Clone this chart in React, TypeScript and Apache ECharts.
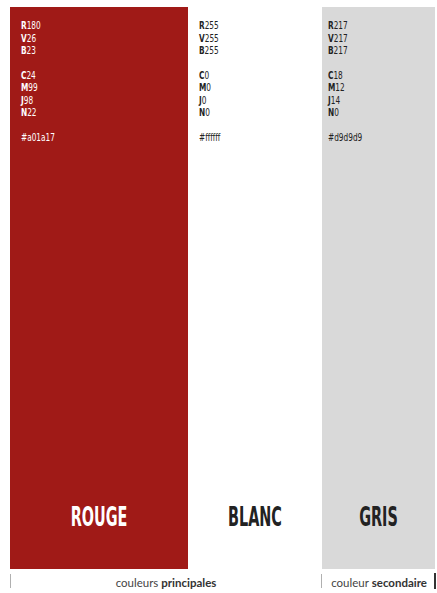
import React, { useEffect, useRef } from "react";
import * as echarts from "echarts";

const colourNames = ["ROUGE", "BLANC", "GRIS"];
const colourHex = ["#a01a17", "#ffffff", "#d9d9d9"];
const columnWidths = [178, 134, 113];
const rgbValues = [
  ["R180", "V26", "B23"],
  ["R255", "V255", "B255"],
  ["R217", "V217", "B217"],
];
const cmjnValues = [
  ["C24", "M99", "J98", "N22"],
  ["C0", "M0", "J0", "N0"],
  ["C18", "M12", "J14", "N0"],
];
const hexLabels = ["#a01a17", "#ffffff", "#d9d9d9"];
const textColours = ["#ffffff", "#222222", "#222222"];
const groupLabels = [
  { normal: "couleurs ", bold: "principales" },
  { normal: "couleur ", bold: "secondaire" },
];

const NARROW = "'Liberation Sans Narrow', 'DejaVu Sans Condensed', 'Roboto Condensed', sans-serif";

function specText(i: number) {
  const fmt = (s: string) => `{b|${s.charAt(0)}}{n|${s.slice(1)}}`;
  const lines = [
    ...rgbValues[i].map(fmt),
    "{n| }",
    ...cmjnValues[i].map(fmt),
    "{n| }",
    `{n|${hexLabels[i]}}`,
  ];
  return lines.join("\n");
}

export default function App() {
  const ref = useRef<HTMLDivElement>(null);
  useEffect(() => {
    if (!ref.current) return;
    const chart = echarts.init(ref.current, null, { renderer: "svg" });
    const gridLeft = 10;
    const gridTop = 7;
    const total = columnWidths.reduce((a, b) => a + b, 0);
    const specX = [21, 199, 328];
    const nameCentres: number[] = [];
    let acc = gridLeft;
    columnWidths.forEach((w) => {
      nameCentres.push(acc + w / 2);
      acc += w;
    });

    const graphics: any[] = [];
    colourNames.forEach((name, i) => {
      graphics.push({
        type: "text",
        x: specX[i],
        y: 19,
        z: 10,
        scaleX: 0.78,
        scaleY: 1.05,
        style: {
          text: specText(i),
          fill: textColours[i],
          rich: {
            b: { fontFamily: NARROW, fontSize: 10.5, fontWeight: "bold", lineHeight: 11.8, fill: textColours[i] },
            n: { fontFamily: NARROW, fontSize: 10.5, fontWeight: "normal", lineHeight: 11.8, fill: textColours[i] },
          },
        },
      });
      graphics.push({
        type: "text",
        x: nameCentres[i],
        y: 517,
        z: 10,
        scaleX: 0.64,
        scaleY: 1.05,
        style: {
          text: name,
          fill: textColours[i],
          font: `bold 25px ${NARROW}`,
          textAlign: "center",
          textVerticalAlign: "middle",
        },
      });
    });
    const captionRich = {
      n: { fontFamily: "Lato", fontSize: 11.5, fill: "#444" },
      b: { fontFamily: "Lato", fontSize: 11.5, fontWeight: "bold", fill: "#333" },
    };
    graphics.push({
      type: "text",
      x: 166,
      y: 582,
      style: {
        text: `{n|${groupLabels[0].normal}}{b|${groupLabels[0].bold}}`,
        textAlign: "center",
        textVerticalAlign: "middle",
        rich: captionRich,
      },
    });
    graphics.push({
      type: "text",
      x: 379,
      y: 582,
      style: {
        text: `{n|${groupLabels[1].normal}}{b|${groupLabels[1].bold}}`,
        textAlign: "center",
        textVerticalAlign: "middle",
        rich: captionRich,
      },
    });
    graphics.push({ type: "line", shape: { x1: 10.5, y1: 574, x2: 10.5, y2: 588 }, style: { stroke: "#b0b0b0", lineWidth: 1 } });
    graphics.push({ type: "line", shape: { x1: 321.5, y1: 574, x2: 321.5, y2: 588 }, style: { stroke: "#b0b0b0", lineWidth: 1 } });
    graphics.push({ type: "line", shape: { x1: 435, y1: 573, x2: 435, y2: 589 }, style: { stroke: "#333", lineWidth: 2 } });

    chart.setOption({
      animation: false,
      backgroundColor: "#ffffff",
      grid: { left: gridLeft, top: gridTop, width: total, height: 562 },
      xAxis: { type: "value", min: 0, max: total, show: false },
      yAxis: { type: "category", data: ["palette"], show: false },
      series: colourNames.map((name, i) => ({
        type: "bar",
        name,
        stack: "palette",
        barWidth: "100%",
        data: [columnWidths[i]],
        itemStyle: { color: colourHex[i] },
        silent: true,
      })),
      graphic: graphics,
    });
    return () => chart.dispose();
  }, []);
  return (
    <div
      ref={ref}
      style={{ position: "fixed", left: 0, top: 0, width: 437, height: 593, background: "#fff" }}
    />
  );
}
